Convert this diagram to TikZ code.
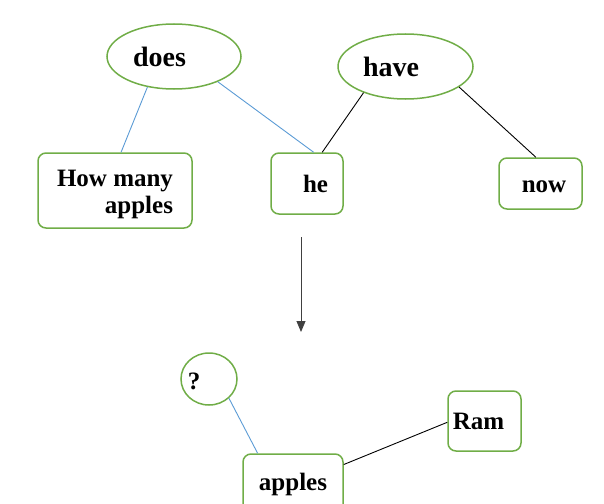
\documentclass[tikz,border=0pt]{standalone}
\usepackage{fontspec}
\setmainfont{Liberation Serif}
\usetikzlibrary{shapes.geometric,arrows.meta}
\definecolor{boxgreen}{HTML}{70AD47}
\definecolor{linkblue}{HTML}{5B9BD5}
\begin{document}
\begin{tikzpicture}[x=1pt,y=-1pt,
  oval/.style={ellipse,draw=boxgreen,line width=1.5pt,inner sep=0pt,font=\fontsize{28}{30}\selectfont\bfseries},
  rbox/.style={rectangle,rounded corners=8pt,draw=boxgreen,line width=1.5pt,inner sep=0pt,font=\fontsize{25}{27}\selectfont\bfseries},
  bluelink/.style={draw=linkblue,line width=0.9pt},
  blacklink/.style={draw=black,line width=0.9pt},
  bigarrow/.style={draw=black!75,line width=0.9pt,-{Triangle[length=11pt,width=9pt]}}]
\useasboundingbox (0,0) rectangle (604,503);
% top tree
\node[oval,minimum width=134pt,minimum height=65pt] (does) at (174,56.5) {does\kern29pt};
\node[oval,minimum width=135pt,minimum height=65pt] (have) at (405.5,66.5) {have\kern29pt};
\node[rbox,minimum width=154pt,minimum height=75pt] (hm) at (115,190.5) {\raisebox{4.5pt}[0pt][0pt]{\begin{tabular}[t]{@{}r@{}}How many\\apples\end{tabular}}};
\node[rbox,minimum width=72pt,minimum height=61pt] (he) at (307,183.5) {\kern17pt he};
\node[rbox,minimum width=83pt,minimum height=51pt] (now) at (540.5,183.5) {\raisebox{-8.5pt}[0pt][0pt]{\kern7pt now}};
\draw[bluelink] (does.229) -- (hm.81);
\draw[bluelink] (does.330.6) -- (he.78);
\draw[blacklink] (have.212.5) -- (he.64);
\draw[blacklink] (have.339.7) -- (now.100);
% transformation arrow
\coordinate (arrS) at (301,237);
\coordinate (arrE) at (301,332);
\draw[bigarrow] (arrS) -- (arrE);
% bottom tree
\node[oval,minimum width=56pt,minimum height=52pt,font=\fontsize{25}{27}\selectfont\bfseries] (q) at (209,379) {\raisebox{-10pt}[0pt][0pt]{\makebox[0pt]{?\kern30pt}}};
\node[rbox,minimum width=73pt,minimum height=60pt] (ram) at (484.5,421) {Ram\kern12pt};
\node[rbox,minimum width=100pt,minimum height=60pt] (app) at (293,484) {apples};
\draw[bluelink] (q.316.5) -- (app.139.4);
\draw[blacklink] (app.21) -- (ram.182);
\end{tikzpicture}
\end{document}
